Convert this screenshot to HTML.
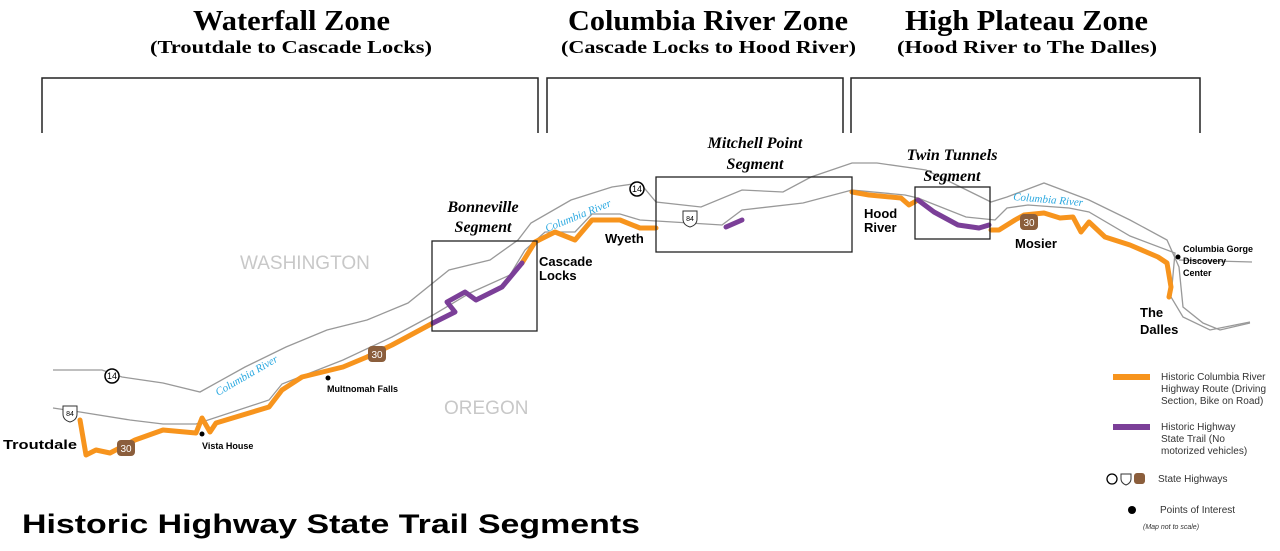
<!DOCTYPE html>
<html><head><meta charset="utf-8"><style>
html,body{margin:0;padding:0;background:#fff;width:1280px;height:551px;overflow:hidden}
svg{display:block}
.serif{font-family:"Liberation Serif",serif;font-weight:bold;fill:#000}
.sans{font-family:"Liberation Sans",sans-serif;font-weight:bold;fill:#000}
.leg{font-family:"Liberation Sans",sans-serif;font-size:10px;fill:#333}
.riv{font-family:"Liberation Serif",serif;font-style:italic;font-size:11px;fill:#29a8e0}
</style></head><body>
<svg width="1280" height="551" viewBox="0 0 1280 551">
<g class="serif">
<text x="193" y="30" font-size="28" textLength="197" lengthAdjust="spacingAndGlyphs">Waterfall Zone</text>
<text x="150" y="53" font-size="18" textLength="282" lengthAdjust="spacingAndGlyphs">(Troutdale to Cascade Locks)</text>
<text x="568" y="30" font-size="28" textLength="280" lengthAdjust="spacingAndGlyphs">Columbia River Zone</text>
<text x="561" y="53" font-size="18" textLength="295" lengthAdjust="spacingAndGlyphs">(Cascade Locks to Hood River)</text>
<text x="905" y="30" font-size="28" textLength="243" lengthAdjust="spacingAndGlyphs">High Plateau Zone</text>
<text x="897" y="53" font-size="18" textLength="260" lengthAdjust="spacingAndGlyphs">(Hood River to The Dalles)</text>
</g>
<g fill="none" stroke="#222" stroke-width="1.5">
<path d="M42,133V78H538V133"/>
<path d="M547,133V78H843V133"/>
<path d="M851,133V78H1200V133"/>
</g>
<g fill="none" stroke="#999" stroke-width="1.3">
<path d="M53,370 L102,370 L122,377 L163,383 L200,392 L245,367 L286,347 L327,330 L367,320 L408,303 L449,270 L490,260 L518,240 L531,223 L571,200 L612,187 L640,183 L656,202 L701,207 L742,190 L783,192 L811,177 L852,163 L877,163 L926,170 L991,202 L1007,197 L1044,183 L1089,200 L1130,220 L1167,240 L1179,267 L1183,307 L1203,323 L1220,330 L1250,323"/>
<path d="M53,408 L80,412 L130,420 L163,424 L196,424 L269,400 L282,384 L343,360 L392,337 L433,315 L470,293 L510,275 L525,250 L545,232 L575,232 L592,214 L620,214 L640,220 L722,225 L742,210 L803,203 L852,190 L905,195 L918,198 L966,217 L995,220 L1007,208 L1028,205 L1069,208 L1089,212 L1130,236 L1175,253 L1171,297 L1183,317 L1210,330 L1250,322"/>
<path d="M1179,260 L1252,262"/>
</g>
<g fill="none" stroke="#f7941d" stroke-width="5" stroke-linejoin="round" stroke-linecap="round">
<path d="M80,420 L86,455 L96,450 L110,453 L135,440 L163,430 L196,433 L202,418 L210,432 L216,423 L269,407 L282,390 L302,377 L343,367 L367,357 L392,345 L433,323"/>
<path d="M522,263 L535,242 L555,232 L575,240 L592,220 L620,220 L640,228 L656,228"/>
<path d="M852,192 L869,195 L901,198 L909,205 L918,200"/>
<path d="M991,230 L999,230 L1015,220 L1024,215 L1044,213 L1060,218 L1073,217 L1081,232 L1089,222 L1105,237 L1130,245 L1158,257 L1167,263 L1171,287 L1169,297"/>
</g>
<g fill="none" stroke="#7b3f98" stroke-width="5" stroke-linejoin="round" stroke-linecap="round">
<path d="M433,323 L455,312 L447,302 L465,292 L476,300 L502,287 L522,263"/>
<path d="M726,227 L742,220"/>
<path d="M918,200 L934,212 L958,225 L979,228 L989,225"/>
</g>
<g fill="none" stroke="#222" stroke-width="1.3">
<rect x="432" y="241" width="105" height="90"/>
<rect x="656" y="177" width="196" height="75"/>
<rect x="915" y="187" width="75" height="52"/>
</g>
<g class="serif" font-style="italic" font-size="16" text-anchor="middle">
<text x="483" y="212">Bonneville</text>
<text x="483" y="232">Segment</text>
<text x="755" y="148">Mitchell Point</text>
<text x="755" y="169">Segment</text>
<text x="952" y="160">Twin Tunnels</text>
<text x="952" y="181">Segment</text>
</g>
<g font-family="Liberation Sans,sans-serif" font-size="19" fill="#c8c8c8">
<text x="240" y="269">WASHINGTON</text>
<text x="444" y="414">OREGON</text>
</g>
<text class="riv" transform="translate(218,396) rotate(-30)">Columbia River</text>
<text class="riv" transform="translate(547,232) rotate(-22)">Columbia River</text>
<text class="riv" transform="translate(1013,200) rotate(5)">Columbia River</text>
<g class="sans" font-size="13">
<text x="3" y="449" textLength="74" lengthAdjust="spacingAndGlyphs">Troutdale</text>
<text x="539" y="266">Cascade</text>
<text x="539" y="280">Locks</text>
<text x="605" y="243">Wyeth</text>
<text x="864" y="218">Hood</text>
<text x="864" y="232">River</text>
<text x="1015" y="248">Mosier</text>
<text x="1140" y="317">The</text>
<text x="1140" y="334">Dalles</text>
</g>
<g class="sans" font-size="9">
<text x="327" y="392">Multnomah Falls</text>
<text x="202" y="449">Vista House</text>
<text x="1183" y="252">Columbia Gorge</text>
<text x="1183" y="264">Discovery</text>
<text x="1183" y="276">Center</text>
</g>
<g fill="#000"><circle cx="328" cy="378" r="2.5"/><circle cx="202" cy="434" r="2.5"/><circle cx="1178" cy="257" r="2.5"/></g>
<g font-family="Liberation Sans,sans-serif" font-size="9" text-anchor="middle">
<circle cx="112" cy="376" r="7" fill="#fff" stroke="#000" stroke-width="1.5"/><text x="112" y="379">14</text>
<circle cx="637" cy="189" r="7" fill="#fff" stroke="#000" stroke-width="1.5"/><text x="637" y="192">14</text>
<path d="M63,406h14v8q0,6-7,8q-7-2-7-8z" fill="#fff" stroke="#333"/><text x="70" y="416" font-size="7">84</text>
<path d="M683,211h14v8q0,6-7,8q-7-2-7-8z" fill="#fff" stroke="#333"/><text x="690" y="221" font-size="7">84</text>
<g fill="#8b5e3c"><rect x="117" y="440" width="18" height="16" rx="4"/><rect x="368" y="346" width="18" height="16" rx="4"/><rect x="1020" y="214" width="18" height="16" rx="4"/></g>
<g fill="#fff" font-size="10"><text x="126" y="452">30</text><text x="377" y="358">30</text><text x="1029" y="226">30</text></g>
</g>
<line x1="1113" y1="377" x2="1150" y2="377" stroke="#f7941d" stroke-width="6"/>
<line x1="1113" y1="427" x2="1150" y2="427" stroke="#7b3f98" stroke-width="6"/>
<g class="leg">
<text x="1161" y="380">Historic Columbia River</text>
<text x="1161" y="392">Highway Route (Driving</text>
<text x="1161" y="404">Section, Bike on Road)</text>
<text x="1161" y="430">Historic  Highway</text>
<text x="1161" y="442">State Trail (No</text>
<text x="1161" y="454">motorized vehicles)</text>
<text x="1158" y="482">State Highways</text>
<text x="1160" y="513">Points of Interest</text>
<text x="1143" y="529" font-size="7" font-style="italic">(Map not to scale)</text>
</g>
<circle cx="1112" cy="479" r="5" fill="#fff" stroke="#000" stroke-width="1.3"/>
<path d="M1121,474h10v5q0,4-5,6q-5-2-5-6z" fill="#fff" stroke="#333"/>
<rect x="1134" y="473" width="11" height="11" rx="3" fill="#8b5e3c"/>
<circle cx="1132" cy="510" r="4" fill="#000"/>
<text class="sans" x="22" y="533" font-size="27" textLength="618" lengthAdjust="spacingAndGlyphs">Historic Highway State Trail Segments</text>
</svg>
</body></html>
